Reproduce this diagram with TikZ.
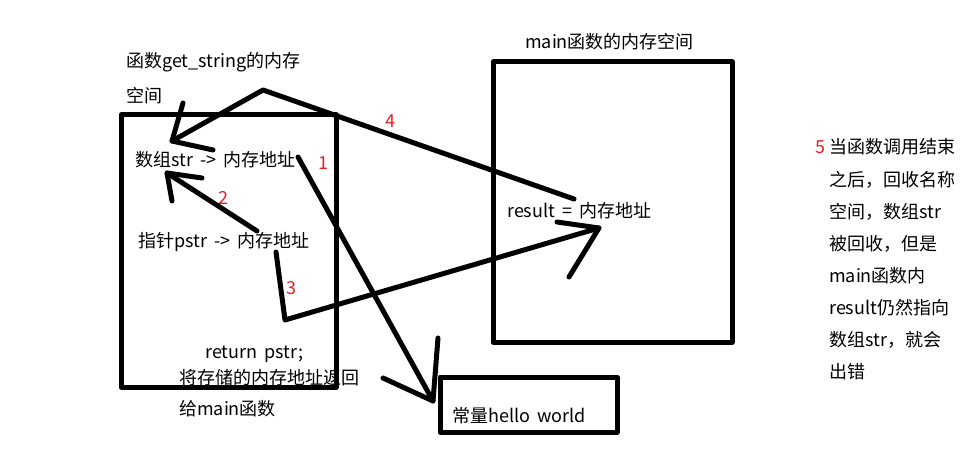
\documentclass[tikz,border=0pt]{standalone}
\usepackage{fontspec}
\setmainfont[WordSpace=1.8]{Noto Sans CJK SC}
\usepackage{tikz}
\definecolor{numred}{RGB}{237,28,36}

\tikzset{
  pen/.style={line width=5pt, line cap=round, line join=round},
  txt/.style={anchor=west, inner sep=0pt, font=\fontsize{18}{18}\selectfont},
  num/.style={anchor=center, inner sep=0pt, text=numred, font=\fontsize{18}{18}\selectfont}
}

\begin{document}
\begin{tikzpicture}[x=1pt, y=-1pt]
\useasboundingbox (0,0) rectangle (960,449);

%draw boxes
\draw[pen] (121,115) rectangle (336,387);
\draw[pen] (493,62) rectangle (732,342);
\draw[pen] (440,377) rectangle (617,432);

%draw texts
\node[txt] (funcmem) at (126,62) {函数get\_string的内存};
\node[txt] (funcmem2) at (126,96) {空间};
\node[txt] (arr) at (135,160) {数组str -> 内存地址};
\node[txt] (ptr) at (138,242) {指针pstr -> 内存地址};
\node[txt] (ret) at (205,354) {return pstr;};
\node[txt] (ret2) at (179,378) {将存储的内存地址返回};
\node[txt] (ret3) at (179,409) {给main函数};
\node[txt] (mainmem) at (525,42) {main函数的内存空间};
\node[txt] (res) at (507,211) {result = 内存地址};
\node[txt] (const) at (452,416) {常量hello world};

%draw notes
\foreach \i/\y/\txt in {1/147/当函数调用结束, 2/180/之后，回收名称, 3/212/空间，数组str,
    4/244/被回收，但是, 5/276/main函数内, 6/308/result仍然指向, 7/340/数组str，就会, 8/372/出错}
   \node[txt] (note\i) at (829,\y) {\txt};
\node[num, anchor=east] (n5) at ([xshift=-3pt]note1.west) {5};

%draw numbers
\node[num] (n1) at (323,163) {1};
\node[num] (n2) at (223,198) {2};
\node[num] (n3) at (291,288) {3};
\node[num] (n4) at (390,121) {4};

%draw strokes
\coordinate (s4) at (574,199);
\coordinate (p4) at (263,90);
\coordinate (t4) at (172,141);
\draw[pen] (s4) -- (p4) -- (t4);
\draw[pen] (183,103) -- (t4) -- (213,150);

\coordinate (s2) at (257,231);
\coordinate (t2) at (167,173);
\draw[pen] (s2) -- (t2);
\draw[pen] (202,178) -- (t2) -- (172,201);

\coordinate (s1) at (298,157);
\coordinate (t1) at (433,401);
\draw[pen] (s1) -- (t1);
\draw[pen] (438,338) -- (t1) -- (383,378);

\coordinate (s3) at (276,252);
\coordinate (c3) at (285,320);
\coordinate (t3) at (599,228);
\draw[pen] (s3) -- (c3) -- (t3);
\draw[pen] (557,222) -- (t3) -- (569,277);
\end{tikzpicture}
\end{document}
